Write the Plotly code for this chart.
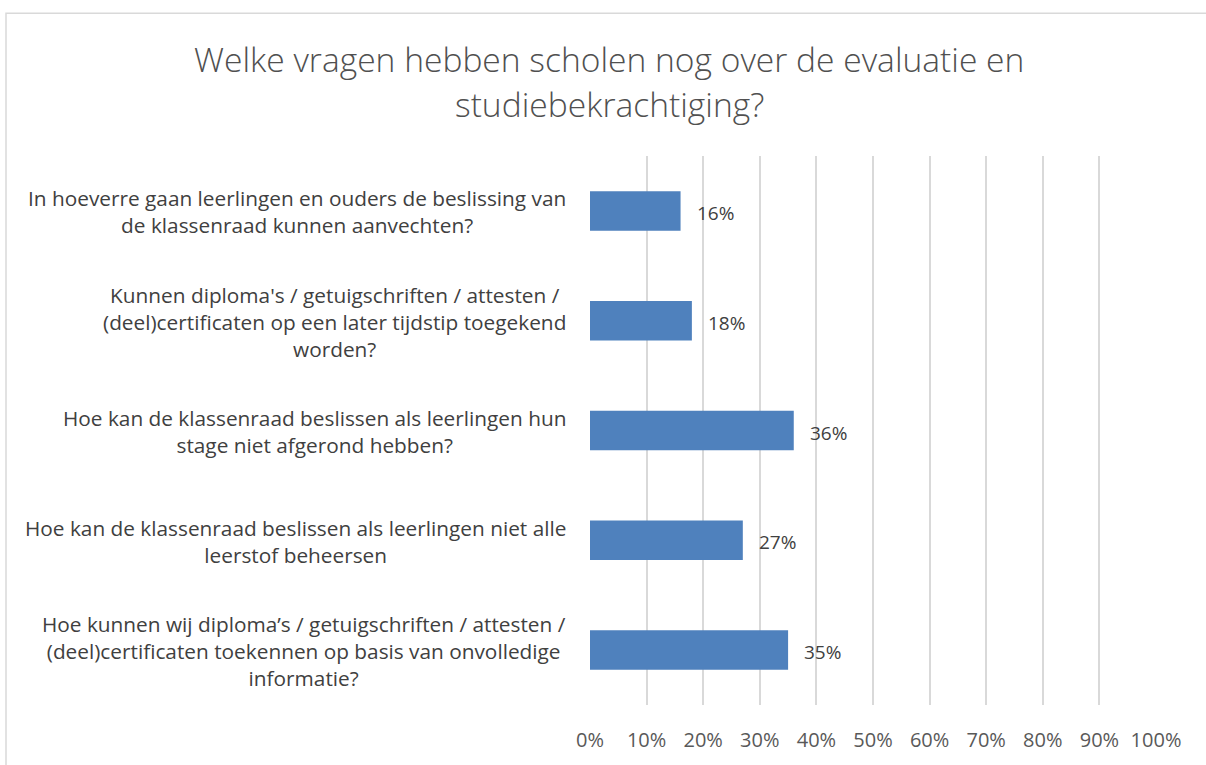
import plotly.graph_objects as go

# Survey questions (top to bottom) and the share of schools asking each one
questions = [
    "In hoeverre gaan leerlingen en ouders de beslissing van<br>de klassenraad kunnen aanvechten?",
    "Kunnen diploma's / getuigschriften / attesten /<br>(deel)certificaten op een later tijdstip toegekend<br>worden?",
    "Hoe kan de klassenraad beslissen als leerlingen hun<br>stage niet afgerond hebben?",
    "Hoe kan de klassenraad beslissen als leerlingen niet alle<br>leerstof beheersen",
    "Hoe kunnen wij diploma’s / getuigschriften / attesten /<br>(deel)certificaten toekennen op basis van onvolledige<br>informatie?",
]
shares = [16, 18, 36, 27, 35]
tick_values = [0, 10, 20, 30, 40, 50, 60, 70, 80, 90, 100]
tick_labels = [f"{v}%" for v in tick_values]
title_lines = [
    "Welke vragen hebben scholen nog over de evaluatie en",
    "studiebekrachtiging?",
]

FONT = "Open Sans"
BAR_COLOR = "#4F81BD"
GRID_COLOR = "#D9D9D9"

# short keys for the category axis; the long text is drawn as centred annotations
keys = [f"q{i}" for i in range(len(questions))]

fig = go.Figure(
    go.Bar(
        x=shares,
        y=keys,
        orientation="h",
        marker=dict(color=BAR_COLOR, line=dict(width=0)),
        width=0.36,
        hoverinfo="skip",
    )
)

annotations = []

# category labels, lines centred within each block
for key, text in zip(keys, questions):
    annotations.append(dict(
        x=0, xref="paper", y=key, yref="y",
        xanchor="right", yanchor="middle", xshift=-22, yshift=-1,
        text=text, showarrow=False, align="center",
        font=dict(family=FONT, size=20.8, color="#404040"),
    ))

# value labels to the right of each bar
for key, v in zip(keys, shares):
    annotations.append(dict(
        x=v, xref="x", y=key, yref="y",
        xanchor="left", yanchor="middle", xshift=14, yshift=-2,
        text=f"{v}%", showarrow=False,
        font=dict(family=FONT, size=19, color="#404040"),
    ))

# two-line title centred over the whole chart
for i, line in enumerate(title_lines):
    annotations.append(dict(
        x=0.0336, xref="paper", y=1.1774 - i * 0.0824, yref="paper",
        xanchor="center", yanchor="middle",
        text=line, showarrow=False,
        font=dict(family=FONT, size=33.6, color="#505050", weight=300),
    ))

# outline of the chart area
shapes = [dict(
    type="rect", xref="paper", yref="paper",
    x0=-1.0318, x1=1.3, y0=-0.3, y1=1.2599,
    line=dict(color=GRID_COLOR, width=1.5), fillcolor="rgba(0,0,0,0)",
    layer="below",
)]

fig.update_layout(
    width=1206, height=765,
    margin=dict(l=590, r=50, t=156, b=51),
    paper_bgcolor="white", plot_bgcolor="white",
    showlegend=False,
    annotations=annotations,
    shapes=shapes,
    xaxis=dict(
        range=[0, 100], tickvals=tick_values, ticktext=tick_labels,
        showgrid=True, gridcolor=GRID_COLOR, gridwidth=1.5,
        zeroline=False, showline=False, ticks="",
        ticklabelstandoff=21,
        tickfont=dict(family=FONT, size=20, color="#595959"),
        fixedrange=True,
    ),
    yaxis=dict(
        categoryorder="array", categoryarray=keys, autorange="reversed",
        showticklabels=False, showgrid=False, zeroline=False,
        showline=False, ticks="", fixedrange=True,
    ),
)

fig.write_html("out.html")
